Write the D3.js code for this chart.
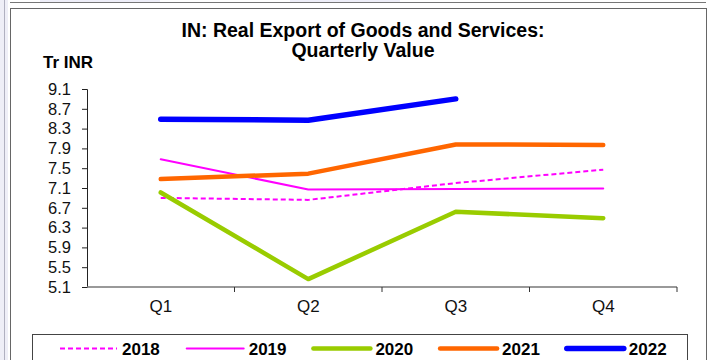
<!DOCTYPE html>
<html>
<head>
<meta charset="utf-8">
<script src="https://cdn.jsdelivr.net/npm/d3@7"></script>
<style>
  html, body { margin: 0; padding: 0; background: #fff; }
  svg { display: block; font-family: "Liberation Sans", Arial, sans-serif; }
</style>
</head>
<body>
<svg id="svg" width="712" height="360"></svg>
<script>
// ---- data ----
const quarters = ['Q1', 'Q2', 'Q3', 'Q4'];
const years = ['2018', '2019', '2020', '2021', '2022'];
const v2018 = [6.90, 6.86, 7.20, 7.47];
const v2019 = [7.68, 7.07, 7.08, 7.09];
const v2020 = [7.01, 5.26, 6.62, 6.49];
const v2021 = [7.28, 7.39, 7.98, 7.97];
const v2022 = [8.49, 8.47, 8.90];
const yTicks = [5.1, 5.5, 5.9, 6.3, 6.7, 7.1, 7.5, 7.9, 8.3, 8.7, 9.1];

const titleLines = ['IN: Real Export of Goods and Services:', 'Quarterly Value'];
const unitLabel = 'Tr INR';

const seriesValues = [v2018, v2019, v2020, v2021, v2022];
const lineStyle = {
  '2018': { color: '#ff00ff', width: 2,   dash: '5,3' },
  '2019': { color: '#ff00ff', width: 2,   dash: null },
  '2020': { color: '#99cc00', width: 4.5, dash: null },
  '2021': { color: '#ff6600', width: 4.5, dash: null },
  '2022': { color: '#0000ff', width: 5.5, dash: null }
};

const svg = d3.select('#svg');

// ---- surroundings (panel frame) ----
svg.append('rect').attr('x', 0).attr('y', 0).attr('width', 8).attr('height', 360).attr('fill', '#eeeef7');
svg.append('line').attr('x1', 4.5).attr('x2', 4.5).attr('y1', 0).attr('y2', 360).attr('stroke', '#b0b0c0');
svg.append('rect').attr('x', 40).attr('y', 0).attr('width', 120).attr('height', 3).attr('fill', '#eeeef8');
svg.append('rect').attr('x', 290).attr('y', 0).attr('width', 110).attr('height', 3).attr('fill', '#eeeef8');
svg.append('line').attr('x1', 10).attr('x2', 706).attr('y1', 2.5).attr('y2', 2.5).attr('stroke', '#777');
svg.append('rect')
  .attr('x', 10.5).attr('y', 8.5).attr('width', 696).attr('height', 370)
  .attr('fill', '#fff').attr('stroke', '#666');

// ---- scales ----
const x = d3.scaleBand().domain(quarters).range([87, 677]);
const y = d3.scaleLinear().domain([5.1, 9.1]).range([287, 89]);

// ---- title ----
svg.append('text')
  .attr('x', 363).attr('y', 36.5)
  .attr('text-anchor', 'middle')
  .style('font-size', '19.5px').style('font-weight', 'bold')
  .text(titleLines[0]);
svg.append('text')
  .attr('x', 363).attr('y', 56.5)
  .attr('text-anchor', 'middle')
  .style('font-size', '19.5px').style('font-weight', 'bold')
  .text(titleLines[1]);

svg.append('text')
  .attr('x', 43).attr('y', 67.5)
  .style('font-size', '17px').style('font-weight', 'bold')
  .text(unitLabel);

// ---- y axis ----
const yAxis = svg.append('g')
  .attr('transform', 'translate(87,0)')
  .call(d3.axisLeft(y).tickValues(yTicks).tickSize(5).tickPadding(11).tickFormat(d3.format('.1f')));
yAxis.select('.domain').attr('stroke', '#222');
yAxis.selectAll('.tick line').attr('stroke', '#222');
yAxis.selectAll('text')
  .style('font-size', '16.5px')
  .attr('fill', '#111')
  .attr('font-family', '"Liberation Sans", Arial, sans-serif');

// ---- x axis (ticks at category boundaries) ----
const xAxis = svg.append('g').attr('transform', 'translate(0,287)');
xAxis.append('line')
  .attr('x1', x.range()[0]).attr('x2', x.range()[1])
  .attr('stroke', '#777').attr('stroke-width', 1.5);
const bounds = quarters.map(q => x(q)).concat([x.range()[1]]);
xAxis.selectAll('line.tk')
  .data(bounds.slice(1))
  .enter().append('line')
  .attr('class', 'tk')
  .attr('x1', d => d).attr('x2', d => d)
  .attr('y1', 0).attr('y2', 5)
  .attr('stroke', '#333');
xAxis.selectAll('text')
  .data(quarters)
  .enter().append('text')
  .attr('x', d => x(d) + x.bandwidth() / 2)
  .attr('y', 24.5)
  .attr('text-anchor', 'middle')
  .style('font-size', '17px')
  .attr('fill', '#111')
  .text(d => d);

// ---- lines ----
const line = d3.line()
  .x((d, i) => x(quarters[i]) + x.bandwidth() / 2)
  .y(d => y(d));

years.forEach((yr, k) => {
  const st = lineStyle[yr];
  svg.append('path')
    .datum(seriesValues[k])
    .attr('fill', 'none')
    .attr('stroke', st.color)
    .attr('stroke-width', st.width)
    .attr('stroke-dasharray', st.dash)
    .attr('stroke-linejoin', 'round')
    .attr('stroke-linecap', st.dash ? 'butt' : 'round')
    .attr('d', line);
});

// ---- legend ----
svg.append('rect')
  .attr('x', 32.5).attr('y', 334.5).attr('width', 655).attr('height', 40)
  .attr('fill', '#fff').attr('stroke', '#444');

const legend = svg.append('g')
  .selectAll('g')
  .data(years)
  .enter().append('g')
  .attr('transform', (d, i) => `translate(${60 + i * 126.7},348.5)`);

legend.append('line')
  .attr('x1', 0).attr('x2', 57)
  .attr('stroke', d => lineStyle[d].color)
  .attr('stroke-width', d => lineStyle[d].width)
  .attr('stroke-dasharray', d => lineStyle[d].dash)
  .attr('stroke-linecap', d => lineStyle[d].dash ? 'butt' : 'round');

legend.append('text')
  .attr('x', 62).attr('y', 6)
  .style('font-size', '17px').style('font-weight', 'bold')
  .text(d => d);
</script>
</body>
</html>
